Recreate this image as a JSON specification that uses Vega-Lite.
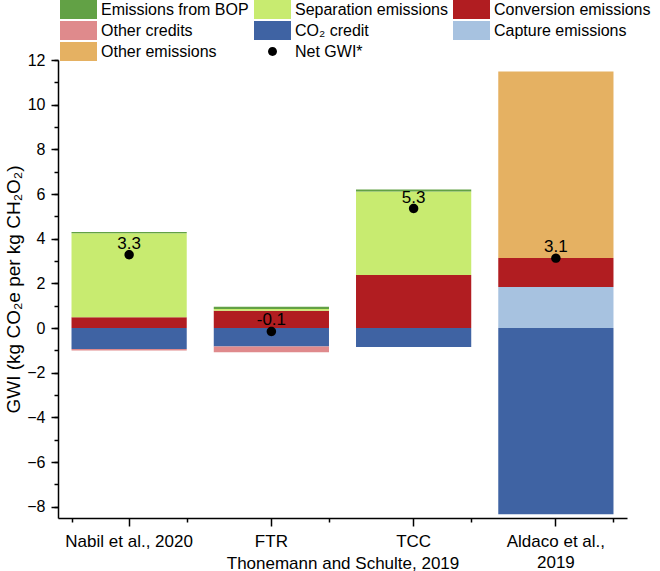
{
  "$schema": "https://vega.github.io/schema/vega-lite/v6.json",
  "width": 569,
  "height": 458,
  "autosize": "none",
  "padding": {"left": 58, "top": 60, "right": 33, "bottom": 53},
  "background": "white",
  "config": {
    "font": "Liberation Sans",
    "view": {"stroke": null},
    "axis": {
      "domainColor": "black",
      "tickColor": "black",
      "labelColor": "black",
      "titleColor": "black",
      "domainWidth": 1.5,
      "tickWidth": 1.5,
      "grid": false,
      "labelFont": "Liberation Sans",
      "titleFont": "Liberation Sans",
      "titleFontWeight": "normal"
    },
    "legend": {
      "orient": "none",
      "legendX": 11,
      "legendY": -60,
      "columns": 3,
      "symbolSize": 361,
      "labelFontSize": 16,
      "labelFont": "Liberation Sans",
      "labelColor": "black",
      "labelOffset": 13,
      "columnPadding": 5,
      "rowPadding": 2,
      "symbolStrokeWidth": 0,
      "padding": 0,
      "symbolOpacity": 1,
      "labelLimit": 300
    }
  },
  "datasets": {
    "bars": [
      {"study": "Nabil et al., 2020", "component": "Conversion emissions", "value": 0.49},
      {"study": "Nabil et al., 2020", "component": "Separation emissions", "value": 3.75},
      {"study": "Nabil et al., 2020", "component": "Emissions from BOP", "value": 0.06},
      {"study": "Nabil et al., 2020", "component": "CO₂ credit", "value": -0.93},
      {"study": "Nabil et al., 2020", "component": "Other credits", "value": -0.07},
      {"study": "FTR", "component": "Conversion emissions", "value": 0.78},
      {"study": "FTR", "component": "Separation emissions", "value": 0.08},
      {"study": "FTR", "component": "Emissions from BOP", "value": 0.1},
      {"study": "FTR", "component": "CO₂ credit", "value": -0.82},
      {"study": "FTR", "component": "Other credits", "value": -0.26},
      {"study": "TCC", "component": "Conversion emissions", "value": 2.38},
      {"study": "TCC", "component": "Separation emissions", "value": 3.73},
      {"study": "TCC", "component": "Emissions from BOP", "value": 0.09},
      {"study": "TCC", "component": "CO₂ credit", "value": -0.85},
      {"study": "Aldaco et al., 2019", "component": "Capture emissions", "value": 1.84},
      {"study": "Aldaco et al., 2019", "component": "Conversion emissions", "value": 1.3},
      {"study": "Aldaco et al., 2019", "component": "Other emissions", "value": 8.35},
      {"study": "Aldaco et al., 2019", "component": "CO₂ credit", "value": -8.33}
    ],
    "points": [
      {"study": "Nabil et al., 2020", "component": "Net GWI*", "net": 3.28, "label": "3.3"},
      {"study": "FTR", "component": "Net GWI*", "net": -0.15, "label": "-0.1"},
      {"study": "TCC", "component": "Net GWI*", "net": 5.35, "label": "5.3"},
      {"study": "Aldaco et al., 2019", "component": "Net GWI*", "net": 3.13, "label": "3.1"}
    ]
  },
  "layer": [
    {
      "data": {"name": "bars"},
      "transform": [
        {"calculate": "indexof(['CO₂ credit','Other credits','Capture emissions','Conversion emissions','Separation emissions','Emissions from BOP','Other emissions'], datum.component)", "as": "stackOrder"}
      ],
      "mark": {"type": "bar"},
      "encoding": {
        "x": {
          "field": "study", "type": "nominal",
          "sort": ["Nabil et al., 2020", "FTR", "TCC", "Aldaco et al., 2019"],
          "scale": {"paddingInner": 0.19, "paddingOuter": 0.095},
          "axis": {"orient": "bottom", "title": null, "labels": false, "tickBand": "extent", "tickSize": 4, "domain": true}
        },
        "y": {
          "field": "value", "type": "quantitative", "stack": "zero",
          "scale": {"domain": [-8.5, 12], "nice": false, "zero": false},
          "axis": {"orient": "left", "title": null, "labels": false, "values": [-8,-7,-6,-5,-4,-3,-2,-1,0,1,2,3,4,5,6,7,8,9,10,11,12], "tickSize": 4, "domain": true}
        },
        "color": {
          "field": "component", "type": "nominal",
          "scale": {
            "domain": ["Emissions from BOP", "Other credits", "Other emissions", "Separation emissions", "CO₂ credit", "Net GWI*", "Conversion emissions", "Capture emissions"],
            "range": ["#62a145", "#df8a8c", "#e5b162", "#c8eb70", "#3f63a3", "#000000", "#b11d21", "#a7c2e0"]
          },
          "legend": {"title": null}
        },
        "order": {"field": "stackOrder", "type": "quantitative"}
      }
    },
    {
      "mark": {"type": "rule", "color": "#808080", "strokeWidth": 1.5},
      "encoding": {"y": {"datum": 0, "axis": null}}
    },
    {
      "data": {"name": "points"},
      "mark": {"type": "point", "filled": true, "opacity": 1, "size": 400},
      "encoding": {
        "x": {
          "field": "study", "type": "nominal",
          "sort": ["Nabil et al., 2020", "FTR", "TCC", "Aldaco et al., 2019"],
          "axis": {
            "orient": "bottom",
            "title": "Thonemann and Schulte, 2019",
            "titleFontSize": 17,
            "titleY": 50,
            "titleBaseline": "alphabetic",
            "labelFontSize": 17,
            "labelAngle": 0,
            "labelPadding": 7,
            "labelLineHeight": 21,
            "labelOverlap": false,
            "labelExpr": "datum.value == 'Aldaco et al., 2019' ? ['Aldaco et al.,', '2019'] : datum.label",
            "tickSize": 8,
            "domain": false
          }
        },
        "y": {
          "field": "net", "type": "quantitative",
          "axis": {
            "orient": "left",
            "values": [-8,-6,-4,-2,0,2,4,6,8,10,12],
            "tickSize": 7,
            "labelFontSize": 16,
            "labelPadding": 6,
            "title": "GWI (kg CO₂e per kg CH₂O₂)",
            "titleFontSize": 19,
            "titlePadding": 3,
            "domain": false
          }
        },
        "color": {"field": "component", "type": "nominal", "legend": {"title": null}},
        "shape": {
          "field": "component", "type": "nominal",
          "scale": {
            "domain": ["Emissions from BOP", "Other credits", "Other emissions", "Separation emissions", "CO₂ credit", "Net GWI*", "Conversion emissions", "Capture emissions"],
            "range": [
              "M-1.947,-1H1.947V1H-1.947Z",
              "M-1.947,-1H1.947V1H-1.947Z",
              "M-1.947,-1H1.947V1H-1.947Z",
              "M-1.947,-1H1.947V1H-1.947Z",
              "M-1.947,-1H1.947V1H-1.947Z",
              "M-0.47,0A0.47,0.47 0 1,0 0.47,0A0.47,0.47 0 1,0 -0.47,0Z",
              "M-1.947,-1H1.947V1H-1.947Z",
              "M-1.947,-1H1.947V1H-1.947Z"
            ]
          },
          "legend": {"title": null}
        }
      }
    },
    {
      "data": {"name": "points"},
      "mark": {"type": "text", "fontSize": 17, "dy": -6, "baseline": "alphabetic", "color": "black", "font": "Liberation Sans"},
      "encoding": {
        "x": {"field": "study", "type": "nominal", "sort": ["Nabil et al., 2020", "FTR", "TCC", "Aldaco et al., 2019"], "axis": null},
        "y": {"field": "net", "type": "quantitative", "axis": null},
        "text": {"field": "label"}
      }
    }
  ],
  "resolve": {"axis": {"x": "independent", "y": "independent"}}
}
